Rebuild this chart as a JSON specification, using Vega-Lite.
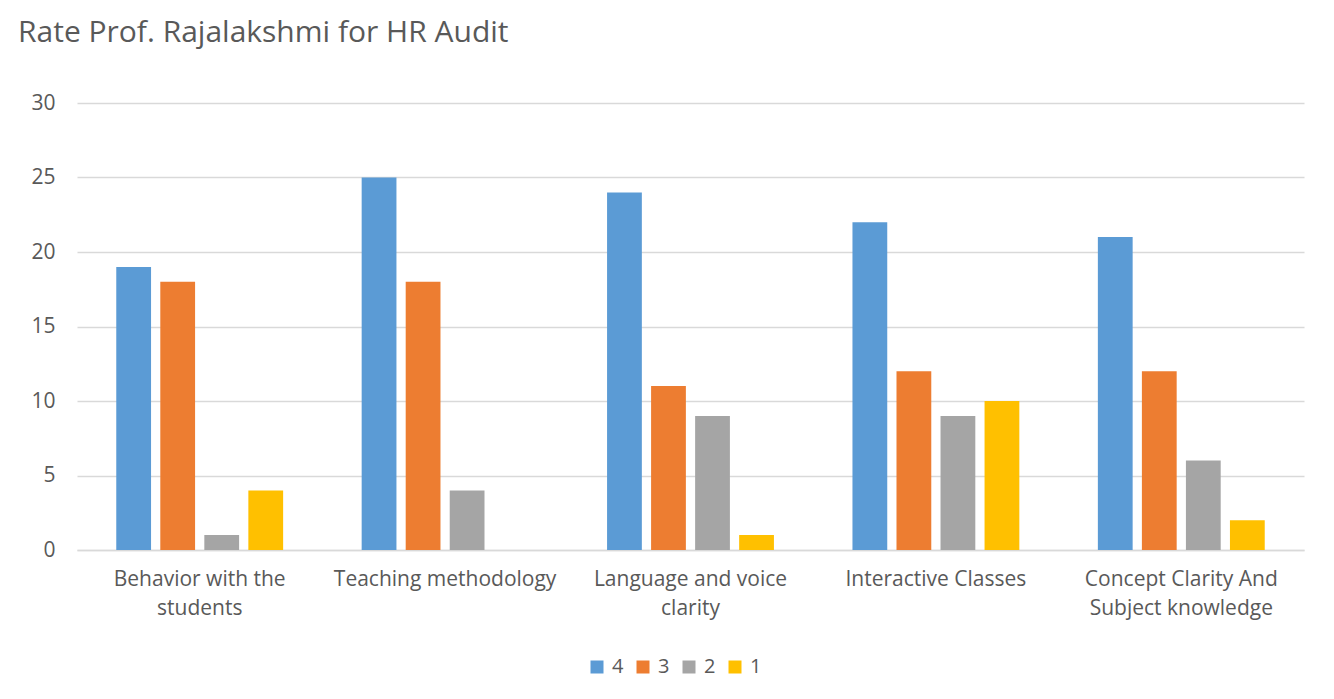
{
  "$schema": "https://vega.github.io/schema/vega-lite/v6.json",
  "autosize": "none",
  "width": 1227,
  "height": 447,
  "padding": {"left": 77, "top": 103, "right": 30, "bottom": 149},
  "background": "white",
  "title": {
    "text": "Rate Prof. Rajalakshmi for HR Audit",
    "anchor": "start",
    "frame": "group",
    "dx": -59,
    "offset": 44,
    "fontSize": 30,
    "fontWeight": "normal",
    "font": "Open Sans",
    "color": "#595959"
  },
  "data": {
    "values": [
      {"category": "Behavior with the students", "rating": "4", "count": 19},
      {"category": "Behavior with the students", "rating": "3", "count": 18},
      {"category": "Behavior with the students", "rating": "2", "count": 1},
      {"category": "Behavior with the students", "rating": "1", "count": 4},
      {"category": "Teaching methodology", "rating": "4", "count": 25},
      {"category": "Teaching methodology", "rating": "3", "count": 18},
      {"category": "Teaching methodology", "rating": "2", "count": 4},
      {"category": "Teaching methodology", "rating": "1", "count": 0},
      {"category": "Language and voice clarity", "rating": "4", "count": 24},
      {"category": "Language and voice clarity", "rating": "3", "count": 11},
      {"category": "Language and voice clarity", "rating": "2", "count": 9},
      {"category": "Language and voice clarity", "rating": "1", "count": 1},
      {"category": "Interactive Classes", "rating": "4", "count": 22},
      {"category": "Interactive Classes", "rating": "3", "count": 12},
      {"category": "Interactive Classes", "rating": "2", "count": 9},
      {"category": "Interactive Classes", "rating": "1", "count": 10},
      {"category": "Concept Clarity And Subject knowledge", "rating": "4", "count": 21},
      {"category": "Concept Clarity And Subject knowledge", "rating": "3", "count": 12},
      {"category": "Concept Clarity And Subject knowledge", "rating": "2", "count": 6},
      {"category": "Concept Clarity And Subject knowledge", "rating": "1", "count": 2}
    ]
  },
  "mark": {"type": "bar"},
  "encoding": {
    "x": {
      "field": "category",
      "type": "nominal",
      "sort": null,
      "scale": {"paddingInner": 0.32, "paddingOuter": 0.16},
      "axis": {
        "title": null,
        "labelAngle": 0,
        "ticks": false,
        "domainColor": "#D9D9D9",
        "domainWidth": 1.5,
        "labelPadding": 18,
        "labelFontSize": 21,
        "labelFont": "Open Sans",
        "labelColor": "#595959",
        "labelLineHeight": 29,
        "labelBaseline": "top",
        "labelLimit": 400,
        "labelExpr": "datum.label == 'Behavior with the students' ? ['Behavior with the', 'students'] : datum.label == 'Language and voice clarity' ? ['Language and voice', 'clarity'] : datum.label == 'Concept Clarity And Subject knowledge' ? ['Concept Clarity And', 'Subject knowledge'] : datum.label"
      }
    },
    "xOffset": {
      "field": "rating",
      "type": "nominal",
      "sort": ["4", "3", "2", "1"],
      "scale": {"paddingInner": 0.21, "paddingOuter": 0}
    },
    "y": {
      "field": "count",
      "type": "quantitative",
      "scale": {"domain": [0, 30]},
      "axis": {
        "title": null,
        "values": [0, 5, 10, 15, 20, 25, 30],
        "domain": false,
        "ticks": false,
        "gridColor": "#D9D9D9",
        "gridWidth": 1.5,
        "labelPadding": 22,
        "labelFontSize": 21,
        "labelFont": "Open Sans",
        "labelColor": "#595959"
      }
    },
    "color": {
      "field": "rating",
      "type": "nominal",
      "sort": ["4", "3", "2", "1"],
      "scale": {"domain": ["4", "3", "2", "1"], "range": ["#5B9BD5", "#ED7D31", "#A5A5A5", "#FFC000"]},
      "legend": {
        "title": null,
        "orient": "none",
        "legendX": 510,
        "legendY": 554,
        "direction": "horizontal",
        "symbolType": "square",
        "symbolSize": 169,
        "symbolStrokeWidth": 0,
        "labelFontSize": 20,
        "labelFont": "Open Sans",
        "labelColor": "#595959",
        "columnPadding": 9,
        "labelOffset": 5
      }
    }
  },
  "config": {
    "view": {"stroke": null}
  }
}
